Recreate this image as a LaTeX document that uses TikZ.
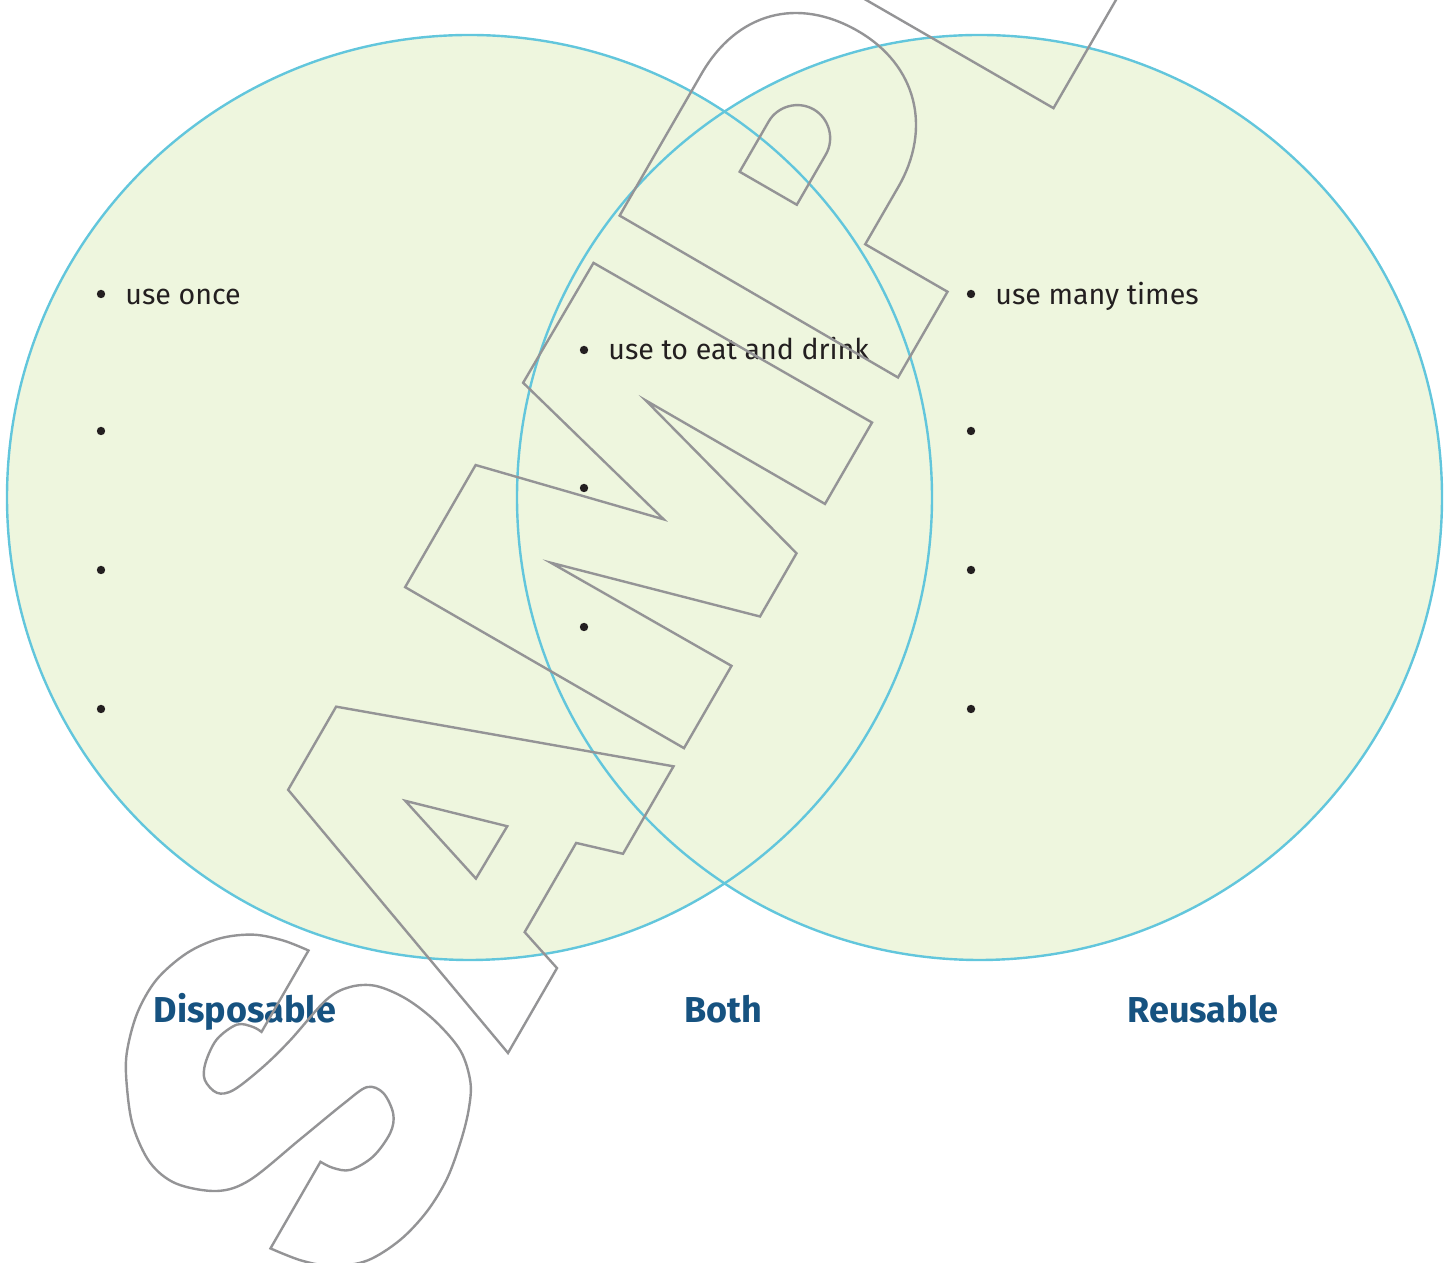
\documentclass[tikz,border=0pt]{standalone}
\usepackage{fontspec}
\setmainfont{Fira Sans}
\definecolor{vennfill}{RGB}{238,246,222}
\definecolor{vennline}{RGB}{98,198,220}
\definecolor{inkcol}{RGB}{35,31,32}
\definecolor{labelcol}{RGB}{22,82,128}
\definecolor{markcol}{RGB}{148,148,150}
\begin{document}
\begin{tikzpicture}[x=0.5pt,y=0.5pt,
  dot/.style={circle,fill=inkcol,inner sep=0pt,minimum size=4.2pt},
  item/.style={anchor=base west,text=inkcol,font=\fontsize{14.3}{17}\selectfont,inner sep=0pt},
  setlabel/.style={anchor=base,text=labelcol,font=\fontsize{18}{21}\selectfont\bfseries,inner sep=0pt},
  ring/.style={draw=vennline,line width=1.2pt},
  wm/.style={draw=markcol,line width=1.2pt}]
\useasboundingbox (0,0) rectangle (1451,1263);
\coordinate (cl) at (469.5,765.5);
\coordinate (cr) at (979.5,765.5);
\fill[vennfill] (cl) circle[radius=462.5];
\fill[vennfill] (cr) circle[radius=462.5];
\draw[ring] (cl) circle[radius=462.5];
\draw[ring] (cr) circle[radius=462.5];
% left column
\node[dot] (l1) at (101,969) {};
\node[item] (tl1) at (125,958) {use once};
\node[dot] (l2) at (101,832) {};
\node[dot] (l3) at (101,693) {};
\node[dot] (l4) at (101,554) {};
% middle column
\node[dot] (m1) at (584,913) {};
\node[item] (tm1) at (608,903) {use to eat and drink};
\node[dot] (m2) at (584,775) {};
\node[dot] (m3) at (584,636) {};
% right column
\node[dot] (r1) at (971,969) {};
\node[item] (tr1) at (995,958) {use many times};
\node[dot] (r2) at (971,832) {};
\node[dot] (r3) at (971,693) {};
\node[dot] (r4) at (971,554) {};
% labels
\node[setlabel] (lab1) at (245,240) {Disposable};
\node[setlabel] (lab2) at (723.5,240) {Both};
\node[setlabel] (lab3) at (1203,240) {Reusable};
% watermark
\begin{scope}
\clip (0,0) rectangle (1451,1263);
\begin{scope}[shift={(508,210)},rotate=60]
% S
\draw[wm] plot[smooth,tension=0.55] coordinates {(-11,224) (-15,251) (-25,280) (-45,307) (-74,328) (-112,341) (-151,341) (-191,330) (-220,313) (-251,288) (-274,255) (-279,222) (-265,183) (-239,160) (-179,137) (-126,117) (-100,105) (-97,88) (-110,69) (-128,62) (-157,65) (-180,78) (-187,94) (-188,108)}
  -- plot[smooth,tension=0.55] coordinates {(-288,108) (-283,75) (-272,45) (-250,18) (-216,0) (-178,-9) (-139,-10) (-99,-3) (-68,6) (-44,18) (-22,42) (-9,78) (-4,115) (-8,148) (-22,170) (-45,184) (-98,195) (-134,205) (-169,219) (-180,232) (-175,249) (-160,257) (-134,259) (-111,249) (-105,234) (-105,224)} -- cycle;
% A
\draw[wm] (0,0) -- (98,0) -- (113,46) -- (216,46) -- (230,0) -- (331,0) -- (214,322) -- (118,322) -- cycle;
\draw[wm] (135,115) -- (196,114) -- (167,215) -- cycle;
% M
\draw[wm] (352,0) -- (447,0) -- (446,208) -- (504,0) -- (577,0) -- (634,207) -- (634,0) -- (728,0) -- (727,321) -- (588,322) -- (540,132) -- (493,322) -- (352,322) -- cycle;
% P
\draw[wm] (780,0) -- (781,322) -- (945,322) .. controls (1015,322) and (1060,278) .. (1060,208) .. controls (1060,140) and (1013,95) .. (945,95) -- (879,95) -- (879,0) -- cycle;
\draw[wm] (879,174) -- (879,240) -- (937,240) .. controls (955,240) and (970,225) .. (970,207) .. controls (970,189) and (955,174) .. (937,174) -- cycle;
% L
\draw[wm] (1091,0) -- (1091,322) -- (1189,322) -- (1189,95) -- (1340,95) -- (1340,0) -- cycle;
\end{scope}
\end{scope}
\end{tikzpicture}
\end{document}
